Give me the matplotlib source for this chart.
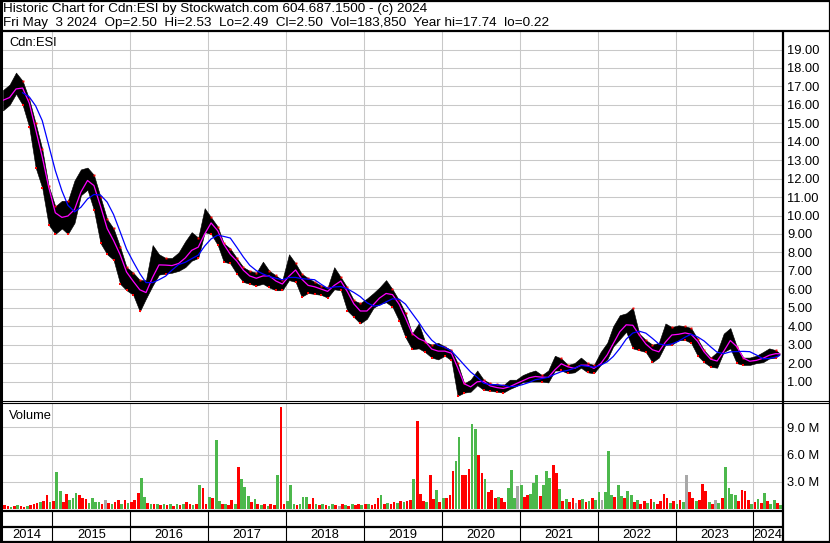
import matplotlib
matplotlib.use("Agg")
import matplotlib.pyplot as plt
import matplotlib.transforms as mtransforms
import numpy as np
import pandas as pd

plt.rcParams['font.family'] = ['Liberation Sans', 'DejaVu Sans']

# ---- data: monthly high / low, May 2014 .. May 3 2024 ----
price_hi = [16.8, 17.1, 17.75, 17.3, 16.3, 15.0, 13.6, 11.6, 10.5, 10.8,
            10.8, 11.9, 12.5, 12.6, 12.2, 11.0, 9.8, 9.3, 8.3, 7.2,
            6.9, 6.5, 6.5, 8.4, 7.9, 7.7, 7.7, 8.0, 8.6, 9.1,
            8.8, 10.4, 9.9, 9.4, 8.5, 8.2, 7.7, 7.2, 7.0, 6.9,
            7.5, 7.0, 6.75, 6.5, 7.9, 7.4, 6.85, 6.6, 6.4, 6.2,
            6.1, 7.2, 6.65, 6.1, 5.4, 5.25, 5.5, 5.8, 6.1, 6.5,
            6.0, 5.4, 4.7, 3.6, 4.15, 3.15, 3.0, 3.1, 2.9, 2.7,
            2.0, 0.9, 1.1, 1.6, 1.1, 0.9, 0.85, 0.8, 1.1, 1.1,
            1.35, 1.5, 1.6, 1.35, 1.6, 2.4, 2.25, 1.9, 2.0, 2.3,
            2.0, 1.9, 2.6, 3.1, 4.0, 4.6, 4.7, 5.0, 3.6, 3.25,
            3.0, 3.1, 4.15, 3.95, 4.05, 4.0, 3.9, 3.3, 2.7, 2.3,
            2.6, 3.6, 3.9, 2.9, 2.3, 2.3, 2.4, 2.6, 2.8, 2.7,
            2.53]
price_lo = [15.7, 16.0, 16.6, 16.0, 14.8, 12.6, 11.5, 9.5, 9.0, 9.3,
            9.0, 9.6, 11.1, 11.4, 10.3, 8.5, 7.9, 7.6, 6.3, 5.95,
            5.7, 4.8, 5.5, 6.2, 6.8, 6.85, 6.9, 7.0, 7.2, 7.55,
            7.7, 9.1, 9.0, 8.4, 7.5, 7.4, 6.85, 6.4, 6.3, 6.2,
            6.3, 6.1, 5.95, 5.95, 6.5, 6.4, 5.6, 5.8, 5.75, 5.7,
            5.55, 6.0, 5.95, 4.85, 4.5, 4.15, 4.4, 5.0, 5.2, 5.3,
            5.05, 4.3, 3.4, 2.75, 2.8, 2.6, 2.3, 2.2, 2.4, 2.15,
            0.22, 0.4, 0.45, 0.8, 0.55, 0.5, 0.45, 0.4, 0.6, 0.75,
            0.97, 1.0, 1.0, 1.0, 0.95, 1.6, 1.6, 1.45, 1.5, 1.75,
            1.5, 1.45, 1.9, 2.2, 2.9, 3.3, 3.7, 2.8, 2.7, 2.6,
            2.05, 2.3, 3.0, 3.0, 3.25, 3.25, 3.1, 2.4, 2.05, 1.8,
            1.75, 2.6, 2.8, 2.0, 1.9, 1.9, 2.0, 2.05, 2.25, 2.3,
            2.49]

# semi-monthly volume (millions) and bar colour code (r=down, g=up, n=unchanged)
volume_m = [0.3, 0.4, 0.3, 0.2, 0.3, 0.4, 0.3, 0.2, 0.3, 0.4,
            0.5, 0.7, 0.8, 0.9, 1.5, 0.8, 0.9, 4.1, 2.0, 0.8,
            1.65, 1.0, 1.2, 1.8, 1.5, 1.2, 1.1, 0.7, 1.2, 0.8,
            0.8, 0.6, 0.95, 0.7, 0.6, 0.8, 1.0, 0.6, 1.0, 0.7,
            0.8, 1.0, 1.8, 3.4, 1.3, 0.7, 0.6, 0.5, 0.6, 0.4,
            0.5, 0.4, 0.6, 0.3, 0.5, 0.4, 0.6, 0.8, 0.5, 0.4,
            0.6, 2.7, 2.3, 0.5, 1.3, 1.2, 7.6, 0.85, 0.6, 0.5,
            0.4, 1.0, 0.6, 4.6, 3.3, 2.4, 1.4, 0.8, 1.1, 0.5,
            0.4, 0.6, 0.3, 0.5, 0.4, 3.8, 11.3, 0.6, 0.85, 2.6,
            0.5, 0.4, 0.6, 1.35, 1.35, 0.5, 1.2, 0.6, 0.4, 0.5,
            0.4, 0.3, 0.5, 0.4, 0.3, 0.5, 0.4, 0.3, 0.5, 0.4,
            0.5, 0.4, 0.6, 0.5, 0.4, 0.6, 1.2, 1.5, 0.6, 0.7,
            0.6, 0.8, 0.7, 0.9, 0.8, 0.9, 1.0, 3.3, 9.7, 1.7,
            0.9, 0.8, 3.7, 1.1, 2.1, 0.8, 1.2, 1.2, 1.5, 4.2,
            5.3, 7.9, 3.8, 3.7, 4.4, 9.4, 8.8, 6.0, 4.0, 3.3,
            1.9, 2.1, 1.2, 1.3, 1.2, 0.8, 2.3, 4.3, 1.2, 2.5,
            2.6, 1.3, 1.5, 1.7, 2.9, 3.8, 1.4, 2.6, 4.2, 3.4,
            4.9, 4.0, 2.2, 0.9, 1.1, 0.8, 1.2, 0.7, 1.0, 1.1,
            0.8, 0.9, 1.2, 1.0, 1.9, 1.0, 1.9, 6.4, 1.5, 1.3,
            2.6, 1.4, 1.2, 2.0, 1.5, 0.8, 1.0, 0.6, 0.9, 0.7,
            1.1, 0.8, 0.6, 0.9, 1.7, 1.2, 0.7, 0.9, 0.6, 1.0,
            0.8, 3.7, 1.9, 1.2, 0.9, 1.0, 2.8, 2.0, 0.8, 0.6,
            0.95, 0.7, 1.2, 4.6, 2.3, 1.7, 1.5, 0.9, 2.1, 2.0,
            1.0, 0.6, 0.8, 1.1, 0.7, 1.8, 0.9, 0.6, 1.0, 0.7,
            0.4]
volume_dir = ("nrrgrgrrgr" "rrgrrgrggr" "rgggrrrggg" "grnrgrrgrg" "rrrggrgrgr"
              "grgrgrgrrg" "rgrrgrggrg" "rrgrgggrgr" "grgrrgrrgg" "grgggrrgrg"
              "rggrnrgrgr" "rgrgrrrgrg" "rrgrgrrgrr" "rgrrgrgrrr" "ggrrrggrrg"
              "rrrgrrgggn" "grrgggrggg" "rrgrgrrnrg" "rgrggngggr" "ggrggrgrrg"
              "rgrrrrgrgr" "gnrrgrrrgr" "ngrggggrrr" "rgrgrgrggr" "g")

price_ticks = list(range(1, 20))
volume_ticks = [3, 6, 9]
years = list(range(2015, 2025))
year_labels = [str(y) for y in range(2014, 2025)]

header1 = "Historic Chart for Cdn:ESI by Stockwatch.com 604.687.1500 - (c) 2024"
header2 = ("Fri May  3 2024  Op=2.50  Hi=2.53  Lo=2.49  Cl=2.50  "
           "Vol=183,850  Year hi=17.74  lo=0.22")


def dec_year(d):
    return np.asarray(d.year + (d.dayofyear - 1) / 365.25)


pdates = pd.date_range('2014-05-01', periods=120, freq='MS') + pd.Timedelta(days=14)
pdates = pdates.append(pd.DatetimeIndex(['2024-05-03']))
t_price = dec_year(pdates)
vdates = pd.date_range('2014-05-01', periods=len(volume_m), freq='SMS') + pd.Timedelta(days=7)
t_vol = dec_year(vdates)

hi = np.array(price_hi)
lo = np.array(price_lo)
mid = pd.Series((hi + lo) / 2)
ma_fast = mid.rolling(2, min_periods=1).mean()
ma_slow = mid.rolling(5, min_periods=4).mean()

XMIN, XMAX = 2014.354, 2024.367
GRID = '#c8c8c8'
FS = 9.3
FS_HEAD = 9.7

W, H = 830, 543


def box(x0, y0, x1, y1):
    return [x0 / W, 1 - y1 / H, (x1 - x0) / W, (y1 - y0) / H]


fig = plt.figure(figsize=(W / 100, H / 100), dpi=100)
fig.patch.set_facecolor('white')

# ---- price panel ----
ax = fig.add_axes(box(2, 32, 782, 400))
ax.set_xlim(XMIN, XMAX)
ax.set_ylim(0, 19.95)
ax.fill_between(t_price, lo, hi, color='black', lw=0.4, zorder=2)
down = np.r_[False, np.diff(mid.values) < 0]
ax.plot(t_price[down], lo[down], 's', color='red', ms=1.8, mew=0, zorder=3)
ax.plot(t_price[down], hi[down], 's', color='red', ms=1.4, mew=0, zorder=3)
ax.plot(t_price, ma_fast, color='#ff00ff', lw=0.9, zorder=4)
ax.plot(t_price, ma_slow, color='#0000ff', lw=0.9, zorder=4)
ax.set_yticks(price_ticks)
ax.set_yticklabels([f'{v:.2f}' for v in price_ticks])
ax.yaxis.tick_right()
ax.set_xticks(years)
ax.set_xticklabels([])
ax.tick_params(length=0, labelsize=FS, pad=3.8)
ax.grid(True, color=GRID, lw=0.75)
ax.set_axisbelow(True)
for s in ax.spines.values():
    s.set_visible(False)
ax.text(0.009, 0.97, 'Cdn:ESI', transform=ax.transAxes, fontsize=FS, va='center')

# ---- volume panel ----
axv = fig.add_axes(box(2, 403, 782, 509))
axv.set_xlim(XMIN, XMAX)
axv.set_ylim(0, 11.7)
cmap = {'r': '#ff0000', 'g': '#4cb84c', 'n': '#a8a8a8'}
axv.bar(t_vol, volume_m, width=0.034, color=[cmap[c] for c in volume_dir],
        lw=0, zorder=2)
axv.set_yticks(volume_ticks)
axv.set_yticklabels([f'{v:.1f} M' for v in volume_ticks])
axv.yaxis.tick_right()
axv.set_xticks(years)
axv.set_xticklabels([])
axv.tick_params(length=0, labelsize=FS, pad=3.8)
axv.grid(True, color=GRID, lw=0.75)
axv.set_axisbelow(True)
for s in axv.spines.values():
    s.set_visible(False)
axv.text(0.009, 0.88, 'Volume', transform=axv.transAxes, fontsize=FS, va='center')

# ---- frame, header and year strip (pixel coordinates) ----
ov = fig.add_axes([0, 0, 1, 1], zorder=5)
ov.set_xlim(0, W)
ov.set_ylim(H, 0)
ov.axis('off')
k = dict(color='black', solid_capstyle='butt')
ov.plot([0, W, W, 0, 0], [1, 1, H - 1, H - 1, 1], lw=1.6, **k)
ov.plot([1, 1], [0, H], lw=2.2, **k)
ov.plot([0, W], [31, 31], lw=1.6, **k)
ov.plot([0, W], [400.5, 400.5], lw=0.8, **k)
ov.plot([0, W], [402.8, 402.8], lw=0.8, **k)
ov.plot([782.5, 782.5], [31, H], lw=1.6, **k)
ov.plot([0, 782], [510.8, 510.8], lw=1.6, **k)
ov.plot([0, 782], [526.8, 526.8], lw=1.6, **k)

ov.text(3, 9, header1, fontsize=FS_HEAD, va='center', ha='left')
ov.text(3, 23, header2, fontsize=FS_HEAD, va='center', ha='left')

blend = mtransforms.blended_transform_factory(axv.transData, ov.transData)
for y in years:
    ov.plot([y, y], [511, 541], color='black', lw=0.8, transform=blend)
centers = [(XMIN + 2015) / 2] + [y + 0.5 for y in years[:-1]] + [(2024 + XMAX) / 2]
for c, lab in zip(centers, year_labels):
    ov.text(c, 534.5, lab, fontsize=FS, ha='center', va='center', transform=blend)

fig.savefig('out.png', dpi=100)
